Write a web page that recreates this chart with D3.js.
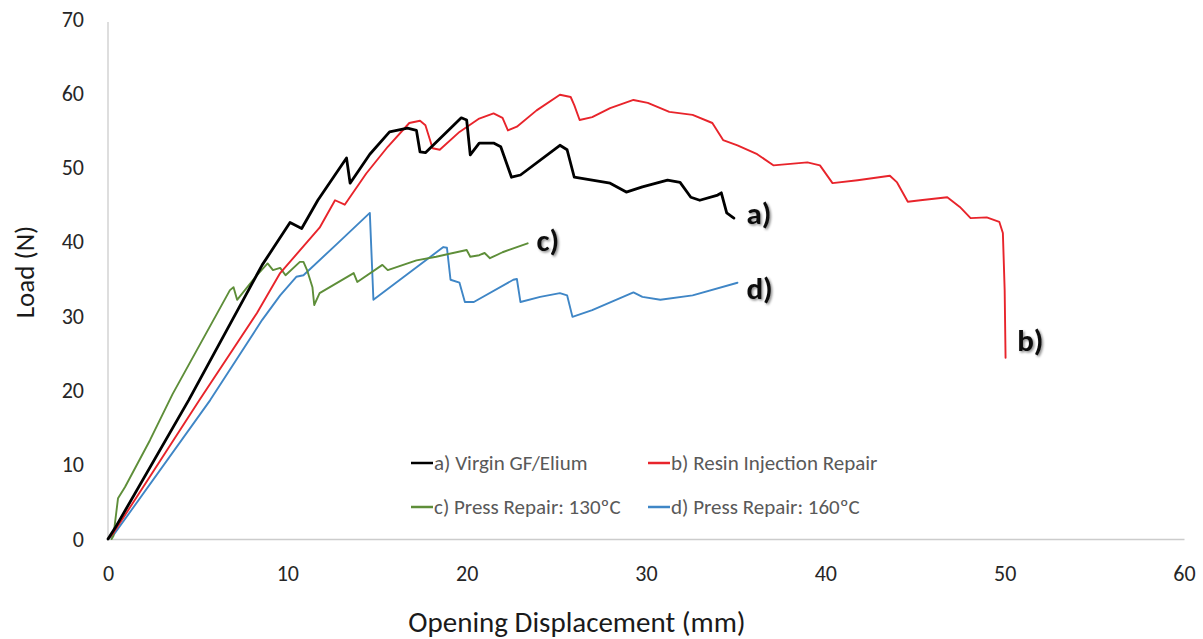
<!DOCTYPE html>
<html>
<head>
<meta charset="utf-8">
<script src="https://cdn.jsdelivr.net/npm/d3@7"></script>
<style>
  html, body { margin: 0; padding: 0; background: #fff; }
  svg { display: block; font-family: Carlito, Lato, "Open Sans", sans-serif; }
</style>
</head>
<body>
<svg id="chart" width="1203" height="639"></svg>
<script>
// ---- Data ----
const xTicks = [0, 10, 20, 30, 40, 50, 60];
const yTicks = [0, 10, 20, 30, 40, 50, 60, 70];
const seriesNames = ["a) Virgin GF/Elium", "b) Resin Injection Repair", "c) Press Repair: 130ºC", "d) Press Repair: 160ºC"];
const curveLabels = ["a)", "b)", "c)", "d)"];

// a) Virgin GF/Elium  [displacement mm, load N]
const virginX = [0, 0.4, 4.5, 8.6, 10.15, 10.8, 11.7, 13.3, 13.5, 14.6, 15.7, 16.7, 17.2, 17.4, 17.7, 19.7, 20.0, 20.2, 20.7, 21.5, 21.9, 22.5, 23.0, 25.2, 25.6, 26.0, 27.0, 28.0, 28.9, 29.8, 31.2, 31.9, 32.5, 33.0, 34.0, 34.2, 34.5, 34.9];
const virginY = [0, 1.5, 18.7, 36.9, 42.6, 41.8, 45.6, 51.3, 47.9, 51.8, 54.8, 55.3, 55.0, 52.1, 52.0, 56.7, 56.4, 51.7, 53.3, 53.3, 52.8, 48.7, 49.0, 53.0, 52.4, 48.7, 48.3, 47.9, 46.7, 47.4, 48.3, 48.0, 46.0, 45.6, 46.3, 46.6, 43.9, 43.2];

// b) Resin Injection Repair
const resinX = [0, 0.3, 5.1, 8.3, 9.6, 11.8, 12.66, 13.2, 14.4, 15.6, 16.8, 17.4, 17.7, 18.1, 18.5, 19.6, 20.7, 21.5, 22.0, 22.3, 22.8, 23.9, 25.2, 25.8, 26.0, 26.3, 27.0, 28.0, 29.3, 30.1, 31.3, 32.6, 33.7, 34.3, 35.1, 36.2, 37.1, 39.0, 39.7, 40.4, 41.8, 43.6, 44.0, 44.6, 45.3, 46.8, 47.5, 48.1, 49.0, 49.7, 49.9, 50.0, 50.05];
const resinY = [0, 0.8, 18.7, 30.4, 35.8, 41.9, 45.6, 45.0, 49.2, 52.8, 56.0, 56.3, 55.7, 52.6, 52.4, 54.8, 56.6, 57.3, 56.7, 55.0, 55.5, 57.7, 59.8, 59.5, 58.4, 56.4, 56.8, 58.0, 59.1, 58.7, 57.5, 57.1, 56.0, 53.7, 53.0, 51.8, 50.3, 50.7, 50.3, 47.9, 48.3, 48.9, 48.0, 45.4, 45.6, 46.0, 44.7, 43.2, 43.3, 42.7, 41.2, 33.5, 24.4];

// c) Press Repair: 130ºC
const press130X = [0.2, 0.3, 0.56, 0.95, 2.34, 3.6, 6.8, 7.0, 7.2, 8.3, 8.9, 9.2, 9.6, 9.9, 10.7, 10.9, 11.1, 11.4, 11.5, 11.8, 13.7, 13.9, 15.3, 15.6, 17.2, 18.3, 20.0, 20.2, 20.7, 21.0, 21.3, 22.0, 23.4];
const press130Y = [0, 0.4, 5.5, 7.0, 13.3, 19.5, 33.5, 33.9, 32.2, 35.5, 37.1, 36.2, 36.5, 35.5, 37.3, 37.3, 36.2, 33.9, 31.5, 33.1, 35.8, 34.6, 36.9, 36.2, 37.5, 38.0, 38.9, 38.0, 38.2, 38.5, 37.8, 38.6, 39.8];

// d) Press Repair: 160ºC
const press160X = [0, 0.3, 5.7, 8.6, 9.6, 10.5, 10.9, 12.8, 14.6, 14.8, 18.7, 18.9, 19.1, 19.6, 19.9, 20.4, 22.6, 22.8, 23.0, 24.1, 25.2, 25.6, 25.9, 27.0, 29.3, 29.8, 30.8, 32.6, 35.1];
const press160Y = [0, 0.5, 18.7, 29.5, 32.8, 35.3, 35.5, 39.8, 43.9, 32.2, 39.3, 39.2, 34.9, 34.5, 31.9, 31.9, 34.9, 35.0, 31.9, 32.6, 33.1, 32.8, 29.9, 30.8, 33.2, 32.6, 32.2, 32.8, 34.5];

const colors = ["#000000", "#e8242b", "#5e8e39", "#3f86c6"];
const widths = [2.8, 1.9, 1.9, 1.9];

// ---- Layout ----
const svg = d3.select("#chart");
const x = d3.scaleLinear().domain([0, 60]).range([108, 1184]);
const y = d3.scaleLinear().domain([0, 70]).range([539, 19]);

const defs = svg.append("defs");
const f = defs.append("filter").attr("id", "shadow").attr("x", "-20%").attr("y", "-20%").attr("width", "160%").attr("height", "160%");
f.append("feDropShadow").attr("dx", 1.5).attr("dy", 1.5).attr("stdDeviation", 1.2).attr("flood-color", "#000").attr("flood-opacity", 0.45);

// axes
const xAxis = d3.axisBottom(x).tickValues(xTicks).tickSize(0).tickPadding(26);
const yAxis = d3.axisLeft(y).tickValues(yTicks).tickSize(0).tickPadding(24);

const gx = svg.append("g").attr("transform", `translate(0,${y(0)})`).call(xAxis);
const gy = svg.append("g").attr("transform", `translate(${x(0)},0)`).call(yAxis);
[gx, gy].forEach(g => {
  g.select(".domain").attr("stroke", "#cccccc").attr("stroke-width", 1.3);
  g.selectAll("text").attr("font-size", 22).attr("fill", "#262626").attr("font-family", "Carlito, Lato, sans-serif");
});
gy.select(".domain").attr("d", `M0,${y(70) + 3}V${y(0)}`);

// axis titles
svg.append("text").attr("x", 577).attr("y", 632).attr("text-anchor", "middle")
  .attr("font-size", 29).attr("fill", "#1a1a1a").text("Opening Displacement (mm)");
svg.append("text").attr("transform", `translate(34,${272}) rotate(-90)`).attr("text-anchor", "middle")
  .attr("font-size", 27).attr("fill", "#1a1a1a").text("Load (N)");

// curves
const seriesX = [virginX, resinX, press130X, press160X];
const seriesY = [virginY, resinY, press130Y, press160Y];
const line = d3.line().x(d => x(d[0])).y(d => y(d[1]));
const drawOrder = [3, 2, 1, 0];
drawOrder.forEach(i => {
  const pts = seriesX[i].map((v, k) => [v, seriesY[i][k]]);
  svg.append("path").datum(pts).attr("d", line)
    .attr("fill", "none").attr("stroke", colors[i]).attr("stroke-width", widths[i])
    .attr("stroke-linejoin", "round").attr("stroke-linecap", "round");
});

// curve end labels
const labelPos = [[35.6, 43.8], [50.7, 26.8], [23.9, 40.2], [35.6, 33.8]];
curveLabels.forEach((t, i) => {
  svg.append("text").attr("x", x(labelPos[i][0])).attr("y", y(labelPos[i][1]))
    .attr("dy", "0.35em").attr("font-size", 31).attr("font-weight", "bold").attr("fill", "#111")
    .attr("filter", "url(#shadow)").text(t);
});

// legend
const legX = [411, 648];
const legY = [463, 507];
seriesNames.forEach((name, i) => {
  const lx = legX[i % 2], ly = legY[Math.floor(i / 2)];
  svg.append("line").attr("x1", lx).attr("x2", lx + 22).attr("y1", ly).attr("y2", ly)
    .attr("stroke", colors[i]).attr("stroke-width", 2.5);
  svg.append("text").attr("x", lx + 23).attr("y", ly).attr("dy", "0.35em")
    .attr("font-size", 21).attr("fill", "#595959").text(name);
});
</script>
</body>
</html>
